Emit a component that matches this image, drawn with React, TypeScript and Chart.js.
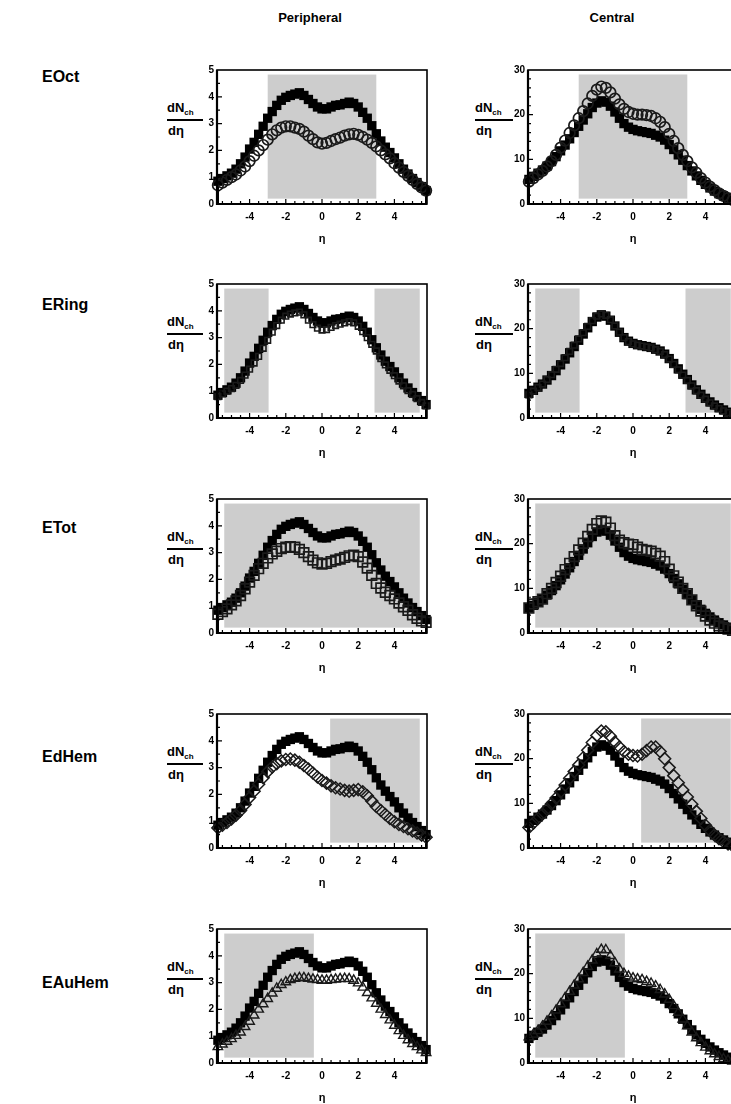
import React, { useEffect, useRef } from 'react';
import { Chart, registerables } from 'chart.js';

Chart.register(...registerables);
Chart.defaults.font.family = "'Liberation Sans', Arial, sans-serif";

// ---------------- DATA ----------------
const ETA = [-5.75, -5.5, -5.25, -5, -4.75, -4.5, -4.25, -4, -3.75, -3.5, -3.25, -3, -2.75, -2.5, -2.25, -2, -1.75, -1.5, -1.25, -1, -0.75, -0.5, -0.25, 0, 0.25, 0.5, 0.75, 1, 1.25, 1.5, 1.75, 2, 2.25, 2.5, 2.75, 3, 3.25, 3.5, 3.75, 4, 4.25, 4.5, 4.75, 5, 5.25, 5.5, 5.75];

const X_TICKS = [-4, -2, 0, 2, 4];
const Y_TICKS_PERIPH = [0, 1, 2, 3, 4, 5];
const Y_TICKS_CENTRAL = [0, 10, 20, 30];

const COLUMN_LABELS = ['Peripheral', 'Central'];
const ROW_LABELS = ['EOct', 'ERing', 'ETot', 'EdHem', 'EAuHem'];

// reference (filled black squares)
const PERIPH_REF = [0.85, 0.95, 1.05, 1.15, 1.3, 1.5, 1.75, 2.05, 2.3, 2.6, 2.9, 3.2, 3.45, 3.68, 3.87, 3.98, 4.05, 4.1, 4.15, 4.05, 3.9, 3.75, 3.62, 3.55, 3.55, 3.62, 3.68, 3.7, 3.75, 3.8, 3.75, 3.62, 3.42, 3.2, 2.92, 2.62, 2.35, 2.12, 1.92, 1.72, 1.5, 1.3, 1.12, 0.95, 0.8, 0.65, 0.5];
const CENTRAL_REF = [5.5, 6.2, 6.9, 7.6, 8.5, 9.5, 10.6, 11.9, 13.2, 14.6, 16.0, 17.4, 18.8, 20.2, 21.6, 22.6, 23.1, 22.8, 21.9, 20.6, 19.2, 18.0, 17.2, 16.7, 16.4, 16.2, 16.0, 15.8, 15.4, 15.0, 14.3, 13.3, 12.2, 11.0, 9.8, 8.6, 7.4, 6.3, 5.3, 4.4, 3.6, 2.9, 2.3, 1.8, 1.3, 0.9, 0.6];

// comparison series (open markers)
const PERIPH_EOCT = [0.7, 0.8, 0.9, 1.0, 1.1, 1.25, 1.4, 1.6, 1.8, 2.0, 2.2, 2.4, 2.6, 2.75, 2.85, 2.9, 2.9, 2.85, 2.8, 2.7, 2.55, 2.42, 2.3, 2.25, 2.28, 2.35, 2.42, 2.48, 2.55, 2.6, 2.62, 2.58, 2.5, 2.4, 2.28, 2.15, 2.0, 1.85, 1.7, 1.52, 1.36, 1.2, 1.05, 0.9, 0.75, 0.62, 0.5];
const PERIPH_ERING = [0.8, 0.9, 1.0, 1.1, 1.22, 1.4, 1.6, 1.82, 2.05, 2.3, 2.6, 2.9, 3.2, 3.45, 3.65, 3.8, 3.88, 3.92, 3.95, 3.85, 3.65, 3.48, 3.35, 3.28, 3.3, 3.38, 3.45, 3.5, 3.55, 3.6, 3.55, 3.42, 3.22, 3.0, 2.75, 2.5, 2.22, 1.98, 1.78, 1.58, 1.38, 1.2, 1.02, 0.88, 0.72, 0.58, 0.45];
const PERIPH_ETOT = [0.7, 0.8, 0.9, 1.05, 1.2, 1.4, 1.65, 1.9, 2.15, 2.4, 2.6, 2.8, 2.95, 3.05, 3.15, 3.2, 3.22, 3.2, 3.12, 3.0, 2.85, 2.72, 2.62, 2.57, 2.6, 2.66, 2.72, 2.76, 2.82, 2.88, 2.9, 2.85, 2.65, 2.42, 2.15, 1.85, 1.68, 1.52, 1.4, 1.27, 1.12, 0.98, 0.85, 0.68, 0.55, 0.45, 0.4];
const PERIPH_EDHEM = [0.75, 0.85, 0.95, 1.08, 1.22, 1.4, 1.62, 1.88, 2.12, 2.38, 2.62, 2.85, 3.02, 3.15, 3.25, 3.3, 3.32, 3.28, 3.2, 3.08, 2.95, 2.8, 2.65, 2.52, 2.42, 2.32, 2.25, 2.2, 2.15, 2.12, 2.15, 2.18, 2.1, 1.95, 1.75, 1.55, 1.4, 1.25, 1.1, 0.98, 0.88, 0.8, 0.72, 0.64, 0.56, 0.48, 0.4];
const PERIPH_EAUHEM = [0.6, 0.7, 0.8, 0.9, 1.02, 1.15, 1.35, 1.55, 1.78, 2.0, 2.2, 2.4, 2.6, 2.78, 2.92, 3.02, 3.1, 3.15, 3.18, 3.18, 3.15, 3.12, 3.1, 3.08, 3.08, 3.1, 3.12, 3.14, 3.15, 3.14, 3.08, 2.98, 2.82, 2.62, 2.42, 2.22, 2.0, 1.8, 1.6, 1.4, 1.2, 1.02, 0.86, 0.72, 0.6, 0.48, 0.38];

const CENTRAL_EOCT = [5.0, 5.8, 6.6, 7.4, 8.4, 9.6, 11.0, 12.6, 14.2, 15.9, 17.6, 19.2, 20.8, 22.5, 24.2, 25.6, 26.3, 26.0, 25.0, 23.6, 22.3, 21.3, 20.6, 20.2, 20.0, 20.0, 19.9, 19.7, 19.2, 18.4, 17.2, 15.7, 14.1, 12.5, 11.0, 9.6, 8.2, 7.0, 5.8, 4.8, 3.9, 3.1, 2.4, 1.8, 1.3, 0.9, 0.6];
const CENTRAL_ERING = [5.2, 6.0, 6.8, 7.6, 8.6, 9.7, 10.9, 12.2, 13.5, 14.9, 16.3, 17.7, 19.1, 20.5, 21.8, 22.8, 23.3, 23.0, 22.0, 20.6, 19.2, 18.0, 17.1, 16.6, 16.3, 16.1, 15.9, 15.7, 15.3, 14.9, 14.2, 13.2, 12.0, 10.8, 9.6, 8.4, 7.2, 6.1, 5.1, 4.2, 3.4, 2.7, 2.1, 1.6, 1.2, 0.8, 0.5];
const CENTRAL_ETOT = [5.6, 6.5, 7.0, 7.6, 8.8, 10.0, 11.3, 12.7, 14.2, 15.6, 17.1, 18.6, 20.1, 21.6, 23.2, 24.5, 25.1, 24.8, 23.5, 21.8, 20.8, 20.2, 19.9, 19.8, 19.2, 18.7, 18.5, 18.3, 17.8, 17.2, 16.0, 14.3, 12.8, 11.4, 10.0, 8.8, 7.4, 6.1, 4.9, 3.8, 2.9, 2.2, 1.6, 1.2, 0.9, 0.6, 0.4];
const CENTRAL_EDHEM = [4.6, 5.6, 6.6, 7.6, 8.7, 9.9, 11.2, 12.6, 14.1, 15.6, 17.1, 18.6, 20.2, 21.9, 23.6, 25.2, 26.2, 26.0, 25.0, 23.7, 22.6, 21.6, 21.0, 20.7, 20.6, 21.0, 21.8, 22.6, 22.6, 21.6, 20.0, 18.0, 16.2, 14.6, 13.0, 11.4, 9.8, 8.2, 6.6, 5.1, 3.9, 2.9, 2.1, 1.4, 0.9, 0.5, 0.3];
const CENTRAL_EAUHEM = [5.8, 6.4, 7.2, 8.2, 9.3, 10.5, 11.8, 13.2, 14.6, 16.0, 17.4, 18.8, 20.2, 21.6, 23.0, 24.4, 25.4, 25.3, 24.0, 22.4, 21.0, 20.0, 19.4, 19.0, 18.8, 18.6, 18.2, 17.8, 17.2, 16.4, 15.4, 14.2, 12.8, 11.3, 9.8, 8.3, 6.9, 5.6, 4.5, 3.5, 2.7, 2.0, 1.4, 0.9, 0.6, 0.4, 0.3];

// shaded eta acceptance regions per row
const SHADE_EOCT = [[-3, 3]];
const SHADE_ERING = [[-5.4, -2.95], [2.9, 5.4]];
const SHADE_ETOT = [[-5.4, 5.4]];
const SHADE_EDHEM = [[0.45, 5.4]];
const SHADE_EAUHEM = [[-5.4, -0.45]];

const PERIPH_SERIES = [PERIPH_EOCT, PERIPH_ERING, PERIPH_ETOT, PERIPH_EDHEM, PERIPH_EAUHEM];
const CENTRAL_SERIES = [CENTRAL_EOCT, CENTRAL_ERING, CENTRAL_ETOT, CENTRAL_EDHEM, CENTRAL_EAUHEM];
const SHADES = [SHADE_EOCT, SHADE_ERING, SHADE_ETOT, SHADE_EDHEM, SHADE_EAUHEM];

// ---------------- LAYOUT / STYLE ----------------
const FONT = "'Liberation Sans', Arial, sans-serif";
const COL_LEFT = [217, 528];
const FRAME_W = 210;
const ROW_TOP = [70, 284, 499, 714, 929];
const FRAME_H = 134;
const ROW_LABEL_Y = [77, 305, 528, 757, 983];
const PAD_L = 45;
const PAD_T = 12;
const PAD_R = 15;
const PAD_B = 48;

const MARKERS = [
  { pointStyle: 'circle', radius: 5.3, width: 1.7 },
  { pointStyle: 'rect', radius: 4.0, width: 1.6 },
  { pointStyle: 'rect', radius: 6.8, width: 1.7 },
  { pointStyle: 'rectRot', radius: 6.0, width: 1.5 },
  { pointStyle: 'triangle', radius: 5.5, width: 1.4 },
];

const shadePlugin = {
  id: 'shade',
  beforeDatasetsDraw(chart: any) {
    const o = chart.options.plugins.shade;
    if (!o) return;
    const { ctx, scales } = chart;
    ctx.save();
    ctx.fillStyle = '#cdcdcd';
    for (const [a, b] of o.ranges) {
      const x1 = scales.x.getPixelForValue(a);
      const x2 = scales.x.getPixelForValue(b);
      const y1 = scales.y.getPixelForValue(o.yHi);
      const y2 = scales.y.getPixelForValue(o.yLo);
      ctx.fillRect(x1, y1, x2 - x1, y2 - y1);
    }
    ctx.restore();
  },
};

const framePlugin = {
  id: 'frame',
  afterDraw(chart: any) {
    const o = chart.options.plugins.frame;
    const { ctx, chartArea, scales } = chart;
    const { left, right, top, bottom } = chartArea;
    ctx.save();
    ctx.strokeStyle = '#000';
    ctx.lineWidth = 1.6;
    ctx.strokeRect(left, top, right - left, bottom - top);
    ctx.lineWidth = 2.2;
    ctx.beginPath();
    ctx.moveTo(left, top);
    ctx.lineTo(left, bottom);
    ctx.lineTo(right, bottom);
    ctx.stroke();
    ctx.lineWidth = 1.2;
    ctx.beginPath();
    const xs = scales.x;
    for (let k = Math.ceil(xs.min / 0.5); k * 0.5 <= xs.max; k++) {
      const v = k * 0.5;
      const px = xs.getPixelForValue(v);
      const len = k % 4 === 0 ? 5 : 3;
      ctx.moveTo(px, bottom);
      ctx.lineTo(px, bottom - len);
    }
    const ys = scales.y;
    const st = o.minor;
    for (let k = 1; k * st < ys.max; k++) {
      const v = k * st;
      const py = ys.getPixelForValue(v);
      const len = Math.abs(v % o.major) < 1e-6 ? 5 : 3;
      ctx.moveTo(left, py);
      ctx.lineTo(left + len, py);
    }
    ctx.stroke();
    ctx.fillStyle = '#000';
    ctx.font = `bold 11px ${FONT}`;
    ctx.textAlign = 'center';
    ctx.textBaseline = 'middle';
    ctx.fillText('η', (left + right) / 2, bottom + 35);
    ctx.restore();
  },
};

type PanelProps = {
  left: number;
  top: number;
  refData: number[];
  cmpData: number[];
  marker: { pointStyle: string; radius: number; width: number };
  shades: number[][];
  yMax: number;
  yTicks: number[];
  minor: number;
  major: number;
  shadeLo: number;
  shadeHi: number;
};

function Panel(p: PanelProps) {
  const ref = useRef<HTMLCanvasElement>(null);
  const w = FRAME_W + PAD_L + PAD_R;
  const h = FRAME_H + PAD_T + PAD_B;
  useEffect(() => {
    const toPts = (arr: number[]) => ETA.map((x, i) => ({ x, y: arr[i] }));
    const xMin = -5.8;
    const xMax = 5.8;
    const tickFont = { family: FONT, size: 10, weight: 'bold' as const };
    const chart = new Chart(ref.current as HTMLCanvasElement, {
      type: 'scatter',
      data: {
        datasets: [
          {
            data: toPts(p.cmpData),
            pointStyle: p.marker.pointStyle as any,
            pointRadius: p.marker.radius,
            pointBorderWidth: p.marker.width,
            pointBorderColor: '#1a1a1a',
            pointBackgroundColor: 'rgba(0,0,0,0)',
            borderColor: '#1a1a1a',
            backgroundColor: 'rgba(0,0,0,0)',
            showLine: false,
            clip: false as any,
          },
          {
            data: toPts(p.refData),
            pointStyle: 'rect',
            pointRadius: 6.6,
            pointBorderWidth: 0,
            pointBorderColor: '#000',
            pointBackgroundColor: '#000',
            borderColor: '#000',
            backgroundColor: '#000',
            showLine: false,
            clip: false as any,
          },
          {
            data: [{ x: xMin, y: 0 }, { x: xMin, y: p.refData[0] }],
            showLine: true,
            borderColor: '#000',
            borderWidth: 4,
            pointRadius: 0,
          },
          {
            data: [{ x: xMax, y: 0 }, { x: xMax, y: p.refData[p.refData.length - 1] }],
            showLine: true,
            borderColor: '#000',
            borderWidth: 4,
            pointRadius: 0,
          },
        ],
      },
      options: {
        animation: false,
        responsive: false,
        devicePixelRatio: 1,
        layout: { padding: { left: 0, top: PAD_T, right: PAD_R, bottom: 0 } },
        plugins: {
          legend: { display: false },
          tooltip: { enabled: false },
          shade: { ranges: p.shades, yLo: p.shadeLo, yHi: p.shadeHi },
          frame: { minor: p.minor, major: p.major },
        } as any,
        scales: {
          x: {
            type: 'linear',
            min: xMin,
            max: xMax,
            afterBuildTicks: (s: any) => {
              s.ticks = X_TICKS.map((v) => ({ value: v }));
            },
            afterFit: (s: any) => {
              s.height = PAD_B;
            },
            grid: { display: false, drawTicks: false },
            border: { display: false },
            ticks: { font: tickFont, color: '#000', padding: 7, maxRotation: 0, autoSkip: false },
          },
          y: {
            type: 'linear',
            min: 0,
            max: p.yMax,
            afterBuildTicks: (s: any) => {
              s.ticks = p.yTicks.map((v) => ({ value: v }));
            },
            afterFit: (s: any) => {
              s.width = PAD_L;
            },
            grid: { display: false, drawTicks: false },
            border: { display: false },
            ticks: { font: tickFont, color: '#000', padding: 3, autoSkip: false },
          },
        },
      },
      plugins: [shadePlugin, framePlugin],
    });
    return () => chart.destroy();
  }, []);
  return (
    <canvas
      ref={ref}
      width={w}
      height={h}
      style={{ position: 'absolute', left: p.left - PAD_L, top: p.top - PAD_T, width: w, height: h }}
    />
  );
}

function YTitle({ left, top, width }: { left: number; top: number; width: number }) {
  return (
    <>
      <div style={{ position: 'absolute', left, top: top + 31, font: `bold 13px ${FONT}`, lineHeight: '14px', whiteSpace: 'nowrap' }}>
        dN<span style={{ fontSize: 8, position: 'relative', top: 3 }}>ch</span>
      </div>
      <div style={{ position: 'absolute', left, top: top + 49, width, height: 2, background: '#000' }} />
      <div style={{ position: 'absolute', left: left + 1, top: top + 54, font: `bold 13px ${FONT}`, lineHeight: '14px' }}>dη</div>
    </>
  );
}

export default function App() {
  return (
    <div style={{ position: 'fixed', left: 0, top: 0, width: 731, height: 1104, overflow: 'hidden', background: '#fff', color: '#000' }}>
      <div style={{ position: 'absolute', left: 0, top: 10, width: 620, textAlign: 'center', font: `bold 13px ${FONT}` }}>
        {COLUMN_LABELS[0]}
      </div>
      <div style={{ position: 'absolute', left: 0, top: 10, width: 1224, textAlign: 'center', font: `bold 13px ${FONT}` }}>
        {COLUMN_LABELS[1]}
      </div>
      {ROW_LABELS.map((lab, r) => (
        <div key={lab} style={{ position: 'absolute', left: 42, top: ROW_LABEL_Y[r] - 9, font: `bold 16px ${FONT}`, lineHeight: '18px' }}>
          {lab}
        </div>
      ))}
      {ROW_LABELS.map((lab, r) => (
        <React.Fragment key={'p' + lab}>
          <YTitle left={167} top={ROW_TOP[r]} width={36} />
          <Panel
            left={COL_LEFT[0]}
            top={ROW_TOP[r]}
            refData={PERIPH_REF}
            cmpData={PERIPH_SERIES[r]}
            marker={MARKERS[r]}
            shades={SHADES[r]}
            yMax={5}
            yTicks={Y_TICKS_PERIPH}
            minor={0.5}
            major={1}
            shadeLo={0.2}
            shadeHi={4.83}
          />
          <YTitle left={475} top={ROW_TOP[r]} width={38} />
          <Panel
            left={COL_LEFT[1]}
            top={ROW_TOP[r]}
            refData={CENTRAL_REF}
            cmpData={CENTRAL_SERIES[r]}
            marker={MARKERS[r]}
            shades={SHADES[r]}
            yMax={30}
            yTicks={Y_TICKS_CENTRAL}
            minor={2}
            major={10}
            shadeLo={1.2}
            shadeHi={29}
          />
        </React.Fragment>
      ))}
    </div>
  );
}
